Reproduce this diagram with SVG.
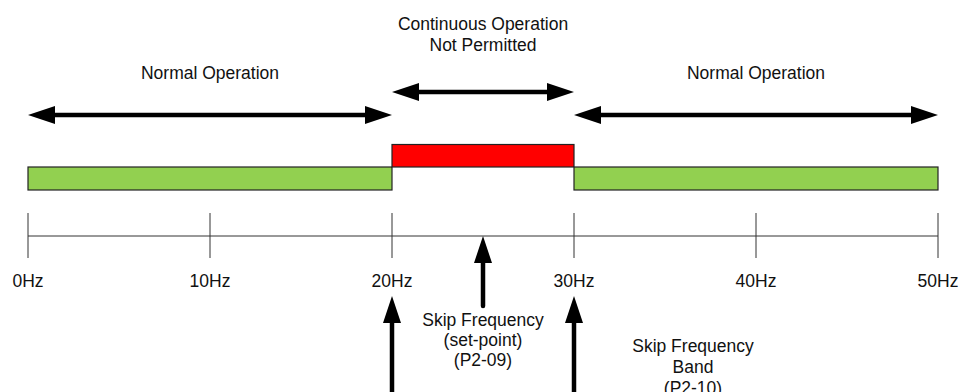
<svg xmlns="http://www.w3.org/2000/svg" width="962" height="392" viewBox="0 0 962 392">
<defs>
<style>
text{font-family:"Liberation Sans",Arial,sans-serif;font-size:17.5px;fill:#111;text-anchor:middle}
.bar{stroke:#222;stroke-width:1.2}
.green{fill:#92D050}
.red{fill:#FF0000}
.axis{stroke:#333;stroke-width:1;fill:none}
.arr{stroke:#000;stroke-width:4.5;fill:none}
</style>
<marker id="ah" viewBox="0 0 27 18" refX="7" refY="9" markerWidth="27" markerHeight="18" markerUnits="userSpaceOnUse" orient="auto-start-reverse">
<path d="M0,0 L27,9 L0,18 Z" fill="#000"/>
</marker>
</defs>
<rect width="962" height="392" fill="#fff"/>

<g id="labels-top">
<text x="210" y="79">Normal Operation</text>
<text x="483" y="30">Continuous Operation</text>
<text x="483" y="51">Not Permitted</text>
<text x="756" y="79">Normal Operation</text>
</g>

<g id="bar-normal-low"><rect class="bar green" x="28" y="167" width="364" height="23"/></g>
<g id="bar-skip"><rect class="bar red" x="392" y="144.5" width="182" height="22.5"/></g>
<g id="bar-normal-high"><rect class="bar green" x="574" y="167" width="364" height="23"/></g>

<g id="axis">
<line class="axis" x1="28" y1="236" x2="938" y2="236"/>
<line class="axis" x1="28" y1="213" x2="28" y2="258"/>
<line class="axis" x1="210" y1="213" x2="210" y2="258"/>
<line class="axis" x1="392" y1="213" x2="392" y2="258"/>
<line class="axis" x1="574" y1="213" x2="574" y2="258"/>
<line class="axis" x1="756" y1="213" x2="756" y2="258"/>
<line class="axis" x1="938" y1="213" x2="938" y2="258"/>
<text x="28" y="287">0Hz</text>
<text x="210" y="287">10Hz</text>
<text x="392" y="287">20Hz</text>
<text x="574" y="287">30Hz</text>
<text x="756" y="287">40Hz</text>
<text x="938" y="287">50Hz</text>
</g>

<g id="label-setpoint">
<text x="483" y="326">Skip Frequency</text>
<text x="483" y="346">(set-point)</text>
<text x="483" y="366">(P2-09)</text>
</g>
<g id="label-band">
<text x="693" y="352">Skip Frequency</text>
<text x="693" y="373">Band</text>
<text x="693" y="394">(P2-10)</text>
</g>

<g id="connectors">
<line class="arr" x1="48" y1="115" x2="372" y2="115" marker-start="url(#ah)" marker-end="url(#ah)"/>
<line class="arr" x1="412" y1="92" x2="554" y2="92" marker-start="url(#ah)" marker-end="url(#ah)"/>
<line class="arr" x1="594" y1="115" x2="918" y2="115" marker-start="url(#ah)" marker-end="url(#ah)"/>
<line class="arr" x1="483" y1="306" x2="483" y2="256" stroke-linecap="round" marker-end="url(#ah)"/>
<line class="arr" x1="392" y1="400" x2="392" y2="316" marker-end="url(#ah)"/>
<line class="arr" x1="574" y1="400" x2="574" y2="316" marker-end="url(#ah)"/>
</g>
</svg>
